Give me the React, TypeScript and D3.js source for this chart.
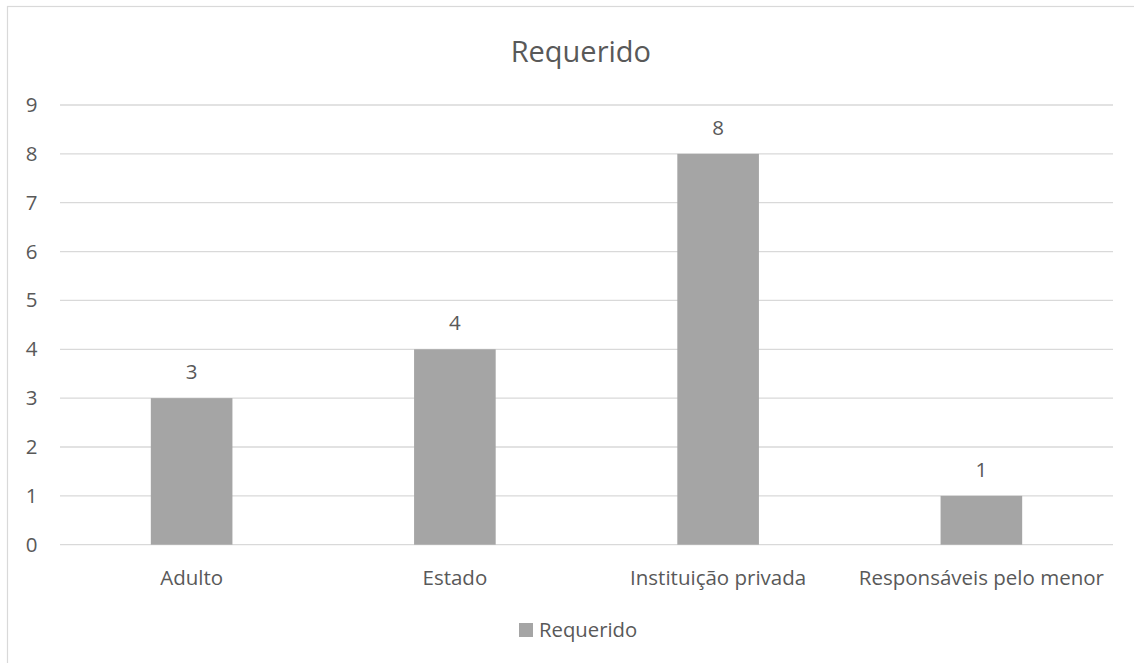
import React from "react";
import * as d3 from "d3";

const categories = ["Adulto", "Estado", "Instituição privada", "Responsáveis pelo menor"];
const values = [3, 4, 8, 1];
const yTicks = [0, 1, 2, 3, 4, 5, 6, 7, 8, 9];
const seriesName = "Requerido";
const title = "Requerido";

export default function App() {
  const W = 1134;
  const H = 663;
  const left = 60;
  const right = 1113;
  const top = 105;
  const bottom = 544.7;
  const x = d3.scaleBand<string>().domain(categories).range([left, right]).paddingInner(0.69).paddingOuter(0.345);
  const y = d3.scaleLinear().domain([0, 9]).range([bottom, top]);
  const font = "'Open Sans', 'Noto Sans', sans-serif";
  const textColor = "#595959";
  return (
    <svg width={W} height={H} style={{ position: "fixed", left: 0, top: 0 }} fontFamily={font}>
      <rect x={0} y={0} width={W} height={H} fill="#fff" />
      <rect x={7.5} y={6.5} width={W + 20} height={H + 20} fill="#fff" stroke="#d9d9d9" strokeWidth={1.2} />
      <text x={651} y={62} textAnchor="end" fontSize={29} fill={textColor}>{title}</text>
      {yTicks.map((t) => (
        <g key={t}>
          <line x1={left} x2={right} y1={y(t)} y2={y(t)} stroke="#d9d9d9" strokeWidth={1.3} />
          <text x={37.5} y={y(t) + 7} textAnchor="end" fontSize={20.5} fill={textColor}>{t}</text>
        </g>
      ))}
      {categories.map((c, i) => (
        <g key={c}>
          <rect x={x(c)} y={y(values[i])} width={x.bandwidth()} height={bottom - y(values[i])} fill="#a5a5a5" />
          <text x={(x(c) as number) + x.bandwidth() / 2} y={y(values[i]) - 19} textAnchor="middle" fontSize={20.5} fill={textColor}>{values[i]}</text>
          <text x={(x(c) as number) + x.bandwidth() / 2} y={585} textAnchor="middle" fontSize={20.5} fill={textColor}>{c}</text>
        </g>
      ))}
      <rect x={519} y={623} width={14} height={14} fill="#a5a5a5" />
      <text x={539} y={637} fontSize={20.3} fill={textColor}>{seriesName}</text>
    </svg>
  );
}
